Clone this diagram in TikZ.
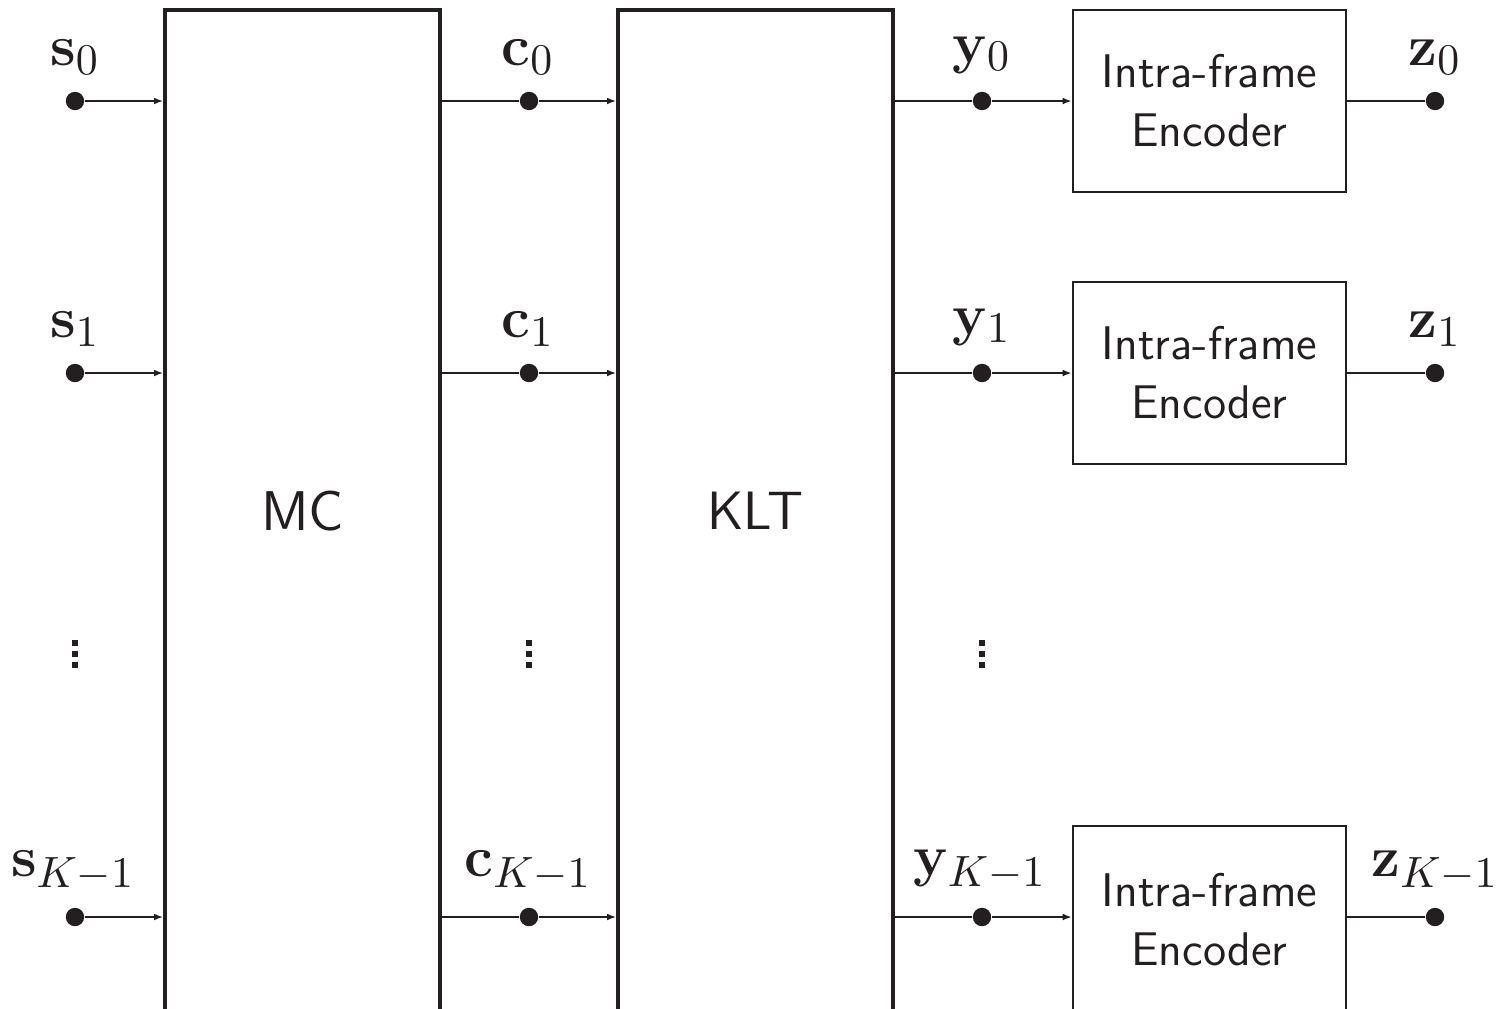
\documentclass[tikz,border=0pt]{standalone}
\usetikzlibrary{arrows.meta}
\definecolor{ink}{RGB}{35,31,32}
\begin{document}
\begin{tikzpicture}[x=0.25pt,y=-0.25pt,
  every node/.style={text=ink},
  dot/.style={circle,fill=ink,inner sep=0pt,minimum size=4.6pt},
  bigbox/.style={draw=ink,line width=0.85pt,minimum width=68.75pt,minimum height=250.5pt,inner sep=0pt},
  encbox/.style={draw=ink,line width=0.55pt,minimum width=68.25pt,minimum height=45.5pt,inner sep=0pt,align=center,font=\sffamily\fontsize{11.8}{14.75}\selectfont},
  arr/.style={draw=ink,line width=0.45pt,-{Latex[length=2.3pt,width=1.7pt]}},
  wire/.style={draw=ink,line width=0.45pt},
  lab/.style={inner sep=0pt,font=\fontsize{15}{17}\selectfont},
  vd/.style={fill=ink}
]
\clip (0,0) rectangle (1501,1008);
% big boxes
\node[bigbox,font=\sffamily\fontsize{14}{16}\selectfont] (mc) at (302.5,511) {MC};
\node[bigbox,font=\sffamily\fontsize{13.5}{16}\selectfont] (klt) at (755.5,511) {KLT};
% encoder boxes
\node[encbox] (e0) at (1209.5,101) {Intra-frame\\Encoder};
\node[encbox] (e1) at (1209.5,373) {Intra-frame\\Encoder};
\node[encbox,minimum height=47pt] (e2) at (1209.5,920) {Intra-frame\\Encoder};
% dots
\foreach \r/\y in {0/101,1/373,2/917}{
  \node[dot] (s\r) at (75,\y) {};
  \node[dot] (c\r) at (529,\y) {};
  \node[dot] (y\r) at (982,\y) {};
  \node[dot] (z\r) at (1435,\y) {};
  \draw[arr] (s\r) -- (s\r -| mc.west);
  \draw[wire] (c\r -| mc.east) -- (c\r);
  \draw[arr] (c\r) -- (c\r -| klt.west);
  \draw[wire] (y\r -| klt.east) -- (y\r);
  \draw[arr] (y\r) -- (y\r -| e\r.west);
  \draw[wire] (z\r -| e\r.east) -- (z\r);
}
% labels
\node[lab] (ls0) at (75,57) {$\mathbf{s}_0$};
\node[lab] (lc0) at (528,57) {$\mathbf{c}_0$};
\node[lab] (ly0) at (982,55) {$\mathbf{y}_0$};
\node[lab] (lz0) at (1435,57) {$\mathbf{z}_0$};
\node[lab] (ls1) at (75,329) {$\mathbf{s}_1$};
\node[lab] (lc1) at (528,329) {$\mathbf{c}_1$};
\node[lab] (ly1) at (982,327) {$\mathbf{y}_1$};
\node[lab] (lz1) at (1435,329) {$\mathbf{z}_1$};
\node[lab] (ls2) at (73,871) {$\mathbf{s}_{K-1}$};
\node[lab] (lc2) at (528,871) {$\mathbf{c}_{K-1}$};
\node[lab] (ly2) at (980,870) {$\mathbf{y}_{K-1}$};
\node[lab] (lz2) at (1435,871) {$\mathbf{z}_{K-1}$};
% vertical dots
\foreach \x in {75,529,982}{
  \foreach \yy in {643,654,665}{
    \fill[vd] (\x-2.6,\yy-2.6) rectangle (\x+2.6,\yy+2.6);
  }
}
\end{tikzpicture}
\end{document}
